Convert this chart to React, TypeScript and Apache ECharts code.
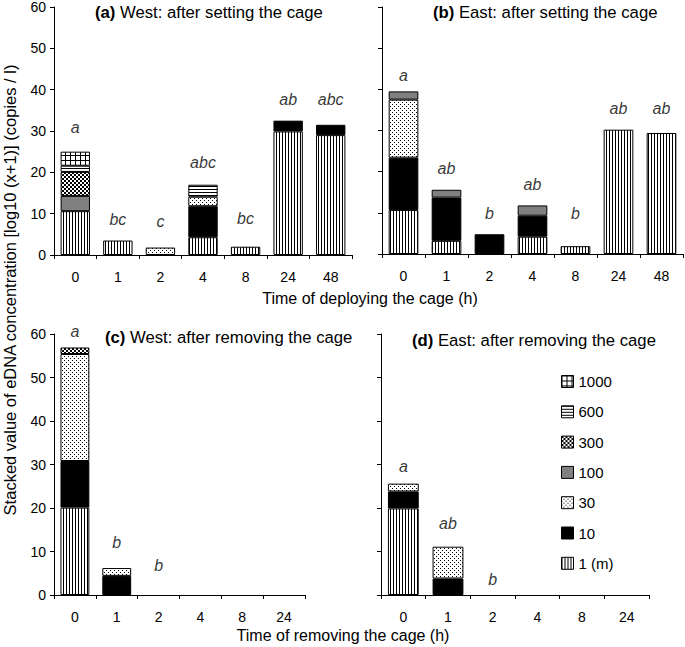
import React, { useEffect, useRef } from 'react';
import * as echarts from 'echarts';

// ---------- data ----------
const catsSet = ['0', '1', '2', '4', '8', '24', '48'];
const catsRemove = ['0', '1', '2', '4', '8', '24'];
const layerNames = ['1 (m)', '10', '30', '100', '300', '600', '1000'];
const legendOrder = ['1000', '600', '300', '100', '30', '10', '1 (m)'];

// Panel (a) West: after setting — segment heights per layer
const aM1 = [10.6, 3.5, 0, 4.3, 2.0, 29.9, 29.0];
const a10 = [0, 0, 0, 7.5, 0, 2.6, 2.5];
const a30 = [0, 0, 1.8, 2.3, 0, 0, 0];
const a100 = [3.7, 0, 0, 0, 0, 0, 0];
const a300 = [5.8, 0, 0, 0, 0, 0, 0];
const a600 = [1.5, 0, 0, 2.9, 0, 0, 0];
const a1000 = [3.4, 0, 0, 0, 0, 0, 0];

// Panel (b) East: after setting
const bM1 = [10.7, 3.2, 0, 4.2, 1.9, 30.2, 29.4];
const b10 = [12.7, 10.5, 4.8, 5.1, 0, 0, 0];
const b30 = [14.1, 0, 0, 0, 0, 0, 0];
const b100 = [2.0, 1.9, 0, 2.5, 0, 0, 0];
const b300 = [0, 0, 0, 0, 0, 0, 0];
const b600 = [0, 0, 0, 0, 0, 0, 0];
const b1000 = [0, 0, 0, 0, 0, 0, 0];

// Panel (c) West: after removing
const cM1 = [20.1, 0, 0, 0, 0, 0];
const c10 = [10.7, 4.4, 0, 0, 0, 0];
const c30 = [24.6, 1.8, 0, 0, 0, 0];
const c100 = [0, 0, 0, 0, 0, 0];
const c300 = [1.5, 0, 0, 0, 0, 0];
const c600 = [0, 0, 0, 0, 0, 0];
const c1000 = [0, 0, 0, 0, 0, 0];

// Panel (d) East: after removing
const dM1 = [19.9, 0, 0, 0, 0, 0];
const d10 = [3.9, 3.8, 0, 0, 0, 0];
const d30 = [1.8, 7.3, 0, 0, 0, 0];
const d100 = [0, 0, 0, 0, 0, 0];
const d300 = [0, 0, 0, 0, 0, 0];
const d600 = [0, 0, 0, 0, 0, 0];
const d1000 = [0, 0, 0, 0, 0, 0];

// significance letters and their heights
const aLetters = ['a', 'bc', 'c', 'abc', 'bc', 'ab', 'abc'];
const aLetterY = [30.9, 8.5, 8.1, 22.5, 8.8, 37.7, 37.7];
const bLetters = ['a', 'ab', 'b', 'ab', 'b', 'ab', 'ab'];
const bLetterY = [43.4, 20.7, 9.9, 16.8, 9.9, 35.4, 35.4];
const cLetters = ['a', 'b', 'b'];
const cLetterY = [60.5, 12.1, 6.7];
const dLetters = ['a', 'ab', 'b'];
const dLetterY = [29.6, 16.4, 3.5];

const yTicks = { min: 0, max: 60, interval: 10 };

const FONT = "'Liberation Sans', Arial, sans-serif";

function makePattern(w: number, h: number, draw: (ctx: CanvasRenderingContext2D) => void) {
  const c = document.createElement('canvas');
  c.width = w;
  c.height = h;
  const ctx = c.getContext('2d') as CanvasRenderingContext2D;
  ctx.fillStyle = '#ffffff';
  ctx.fillRect(0, 0, w, h);
  ctx.fillStyle = '#000000';
  draw(ctx);
  return { image: c, repeat: 'repeat', imageWidth: w, imageHeight: h } as any;
}

export default function App() {
  const ref = useRef<HTMLDivElement>(null);

  useEffect(() => {
    if (!ref.current) return;
    const chart = echarts.init(ref.current, undefined, { renderer: 'svg' });

    const fills: any[] = [
      makePattern(3, 1, (ctx) => ctx.fillRect(0, 0, 1, 1)), // 1 (m) vertical stripes
      '#000000', // 10 solid black
      makePattern(4, 4, (ctx) => { ctx.fillRect(0, 0, 1, 1); ctx.fillRect(2, 2, 1, 1); }), // 30 dots
      '#808080', // 100 grey
      makePattern(4, 4, (ctx) => { ctx.fillRect(0, 0, 2, 2); ctx.fillRect(2, 2, 2, 2); }), // 300 checker
      makePattern(1, 3, (ctx) => ctx.fillRect(0, 0, 1, 1)), // 600 horizontal
      makePattern(5, 5, (ctx) => { ctx.fillRect(0, 0, 5, 1); ctx.fillRect(0, 0, 1, 5); }), // 1000 grid
    ];

    const panels = [
      { key: 'a', layers: [aM1, a10, a30, a100, a300, a600, a1000], letters: aLetters, letterY: aLetterY, showLabels: true },
      { key: 'b', layers: [bM1, b10, b30, b100, b300, b600, b1000], letters: bLetters, letterY: bLetterY, showLabels: false },
      { key: 'c', layers: [cM1, c10, c30, c100, c300, c600, c1000], letters: cLetters, letterY: cLetterY, showLabels: true },
      { key: 'd', layers: [dM1, d10, d30, d100, d300, d600, d1000], letters: dLetters, letterY: dLetterY, showLabels: false },
    ];

    const grids = [
      { left: 54, top: 7, width: 298, height: 248 },
      { left: 382, top: 7, width: 301, height: 247 },
      { left: 54, top: 334, width: 251, height: 261 },
      { left: 381, top: 334, width: 268, height: 261 },
    ];

    const xAxes = panels.map((p, i) => ({
      type: 'category',
      gridIndex: i,
      data: i < 2 ? catsSet : catsRemove,
      axisLine: { lineStyle: { color: '#000', width: 1 } },
      axisTick: { show: true, length: 4, lineStyle: { color: '#000' } },
      axisLabel: { color: '#000', fontSize: 14, fontFamily: FONT, margin: 15 },
      splitLine: { show: false },
    }));

    const yAxes = panels.map((p, i) => ({
      type: 'value',
      gridIndex: i,
      min: yTicks.min,
      max: yTicks.max,
      interval: yTicks.interval,
      axisLine: { show: true, lineStyle: { color: '#000', width: 1 } },
      axisTick: { show: true, length: 4, lineStyle: { color: '#000' } },
      axisLabel: { show: p.showLabels, color: '#000', fontSize: 14, fontFamily: FONT, margin: 8 },
      splitLine: { show: false },
    }));

    const series: any[] = [];
    panels.forEach((p, i) => {
      p.layers.forEach((vals, li) => {
        series.push({
          type: 'bar',
          name: layerNames[li],
          xAxisIndex: i,
          yAxisIndex: i,
          stack: 'stack' + p.key,
          barWidth: '69%',
          data: vals.map((v) => (v === 0 ? '-' : v)),
          itemStyle: { color: fills[li], borderColor: '#000', borderWidth: 1 },
          emphasis: { disabled: true },
        });
      });
      series.push({
        type: 'scatter',
        name: 'letters' + p.key,
        xAxisIndex: i,
        yAxisIndex: i,
        symbolSize: 0,
        clip: false,
        z: 10,
        data: p.letterY.map((v, k) => ({ value: [k, v], name: p.letters[k] })),
        label: {
          show: true,
          position: 'inside',
          formatter: '{b}',
          color: '#000',
          fontSize: 16,
          fontStyle: 'italic',
          fontFamily: FONT,
        },
        emphasis: { disabled: true },
      });
    });

    const titleText = (x: number, y: number, tag: string, rest: string) => ({
      type: 'text',
      x,
      y,
      style: {
        text: '{b|' + tag + '}' + rest,
        fontSize: 16.7,
        fontFamily: FONT,
        fill: '#000',
        verticalAlign: 'middle',
        textVerticalAlign: 'middle',
        rich: { b: { fontWeight: 'bold', fontSize: 16.7, fontFamily: FONT } },
      },
    });

    const plainText = (x: number, y: number, text: string, size: number, rotation = 0) => ({
      type: 'text',
      x,
      y,
      rotation,
      style: {
        text,
        fontSize: size,
        fontFamily: FONT,
        fill: '#000',
        align: 'center',
        textAlign: 'center',
        verticalAlign: 'middle',
        textVerticalAlign: 'middle',
      },
    });

    const option: any = {
      animation: false,
      backgroundColor: '#fff',
      grid: grids,
      xAxis: xAxes,
      yAxis: yAxes,
      series,
      legend: {
        orient: 'vertical',
        left: 561,
        top: 374,
        padding: 0,
        itemWidth: 12,
        itemHeight: 12,
        itemGap: 15.3,
        icon: 'rect',
        data: legendOrder,
        selectedMode: false,
        itemStyle: { borderColor: '#000', borderWidth: 1 },
        textStyle: { color: '#000', fontSize: 15, fontFamily: FONT, padding: [0, 0, 0, 0] },
      },
      graphic: [
        titleText(95, 12, '(a)', ' West: after setting the cage'),
        titleText(433, 12, '(b)', ' East: after setting the cage'),
        titleText(105, 337, '(c)', ' West: after removing the cage'),
        titleText(412, 340, '(d)', ' East: after removing the cage'),
        plainText(370, 298, 'Time of deploying the cage (h)', 16),
        plainText(343, 635, 'Time of removing the cage (h)', 16),
        plainText(10, 290, 'Stacked value of eDNA concentration [log10 (x+1)] (copies / l)', 16.5, Math.PI / 2),
      ],
    };

    chart.setOption(option);
    return () => chart.dispose();
  }, []);

  return (
    <div
      ref={ref}
      style={{ position: 'absolute', left: 0, top: 0, width: 685, height: 647, background: '#fff' }}
    />
  );
}
